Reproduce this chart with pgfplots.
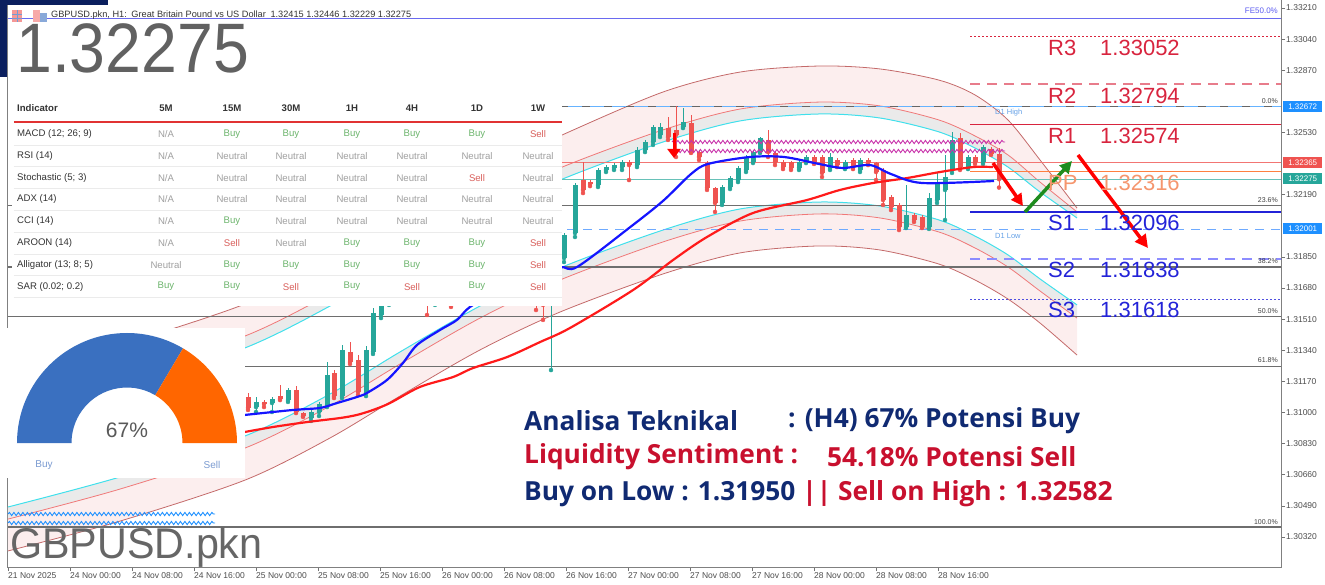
\documentclass[border=0pt]{standalone}
\usepackage{fontspec}
\usepackage{graphicx}
\usepackage{pgfplots}
\usepackage{pgfplotstable}
\pgfplotsset{compat=1.18}
\usepgfplotslibrary{fillbetween}
\usetikzlibrary{decorations.pathmorphing,arrows.meta}
\setmainfont{Liberation Sans}
\newfontfamily\osans{Open Sans}

\definecolor{upc}{HTML}{26A69A}
\definecolor{dnc}{HTML}{EF5350}
\definecolor{navyt}{HTML}{102A72}
\definecolor{redt}{HTML}{C8102E}
\definecolor{rlev}{HTML}{D8243E}
\definecolor{slev}{HTML}{2323D8}
\definecolor{chbrown}{HTML}{C46A6A}
\definecolor{chred}{HTML}{F07878}
\definecolor{chcyan}{HTML}{40E0EC}
\definecolor{pinkfill}{HTML}{FCEEEE}
\definecolor{greyfill}{HTML}{EAEAEA}
\definecolor{fibg}{HTML}{6E6E6E}
\definecolor{gblue}{HTML}{3A70C0}
\definecolor{gorange}{HTML}{FF6600}
\definecolor{buyc}{HTML}{6DB56D}
\definecolor{sellc}{HTML}{D9605C}
\definecolor{neuc}{HTML}{A0A0A0}
\definecolor{navyband}{HTML}{0B1F5E}

\newcommand\cellB{\textcolor{buyc}{Buy}}
\newcommand\cellS{\textcolor{sellc}{Sell}}
\newcommand\cellN{\textcolor{neuc}{Neutral}}
\newcommand\cellA{\textcolor{neuc}{N/A}}

\pgfplotstableread{
x o h l c
256 1.31030 1.31085 1.31003 1.31058
272 1.31052 1.31085 1.31003 1.31074
288 1.31068 1.31134 1.31058 1.31123
311 1.30970 1.31014 1.30954 1.31003
319 1.31003 1.31058 1.30981 1.31047
327 1.31041 1.31276 1.31030 1.31205
342 1.31090 1.31369 1.31079 1.31342
366 1.31107 1.31363 1.31090 1.31342
373 1.31331 1.31571 1.31320 1.31544
381 1.31533 1.31669 1.31516 1.31642
389 1.31615 1.31806 1.31588 1.31779
404 1.31697 1.31888 1.31669 1.31861
412 1.31844 1.31970 1.31833 1.31943
435 1.31615 1.31806 1.31588 1.31779
443 1.31768 1.31888 1.31751 1.31861
458 1.31642 1.31779 1.31615 1.31751
466 1.31751 1.31915 1.31724 1.31888
474 1.31888 1.31997 1.31861 1.31970
489 1.31861 1.32024 1.31844 1.31997
497 1.31986 1.32079 1.31970 1.32052
520 1.31768 1.31888 1.31751 1.31861
528 1.31844 1.31943 1.31833 1.31915
551 1.31669 1.31861 1.31232 1.31822
564 1.31844 1.31981 1.31822 1.31970
575 1.31981 1.32254 1.31959 1.32243
598 1.32243 1.32336 1.32232 1.32325
606 1.32325 1.32352 1.32314 1.32341
614 1.32336 1.32363 1.32325 1.32352
622 1.32341 1.32380 1.32325 1.32369
637 1.32352 1.32451 1.32341 1.32434
645 1.32434 1.32489 1.32423 1.32478
653 1.32478 1.32571 1.32462 1.32560
660 1.32516 1.32582 1.32505 1.32560
683 1.32560 1.32665 1.32554 1.32587
722 1.32145 1.32243 1.32134 1.32232
730 1.32232 1.32292 1.32221 1.32281
738 1.32270 1.32347 1.32259 1.32336
746 1.32325 1.32407 1.32314 1.32396
753 1.32369 1.32434 1.32363 1.32423
760 1.32423 1.32505 1.32418 1.32500
799 1.32336 1.32380 1.32325 1.32369
806 1.32369 1.32407 1.32363 1.32396
830 1.32336 1.32418 1.32325 1.32396
845 1.32341 1.32380 1.32330 1.32369
860 1.32325 1.32391 1.32314 1.32380
906 1.32013 1.32243 1.32008 1.32079
929 1.32013 1.32199 1.32003 1.32172
937 1.32161 1.32309 1.32145 1.32254
945 1.32216 1.32407 1.32052 1.32287
952 1.32325 1.32533 1.32309 1.32489
968 1.32341 1.32407 1.32330 1.32396
983 1.32369 1.32462 1.32358 1.32451
}\upcandles

\pgfplotstableread{
x o h l c
248 1.31085 1.31107 1.31014 1.31025
264 1.31058 1.31068 1.31030 1.31047
280 1.31090 1.31151 1.31068 1.31074
296 1.31123 1.31145 1.30997 1.31003
303 1.30997 1.31003 1.30976 1.30981
334 1.31216 1.31232 1.31079 1.31090
350 1.31331 1.31385 1.31265 1.31276
358 1.31287 1.31314 1.31096 1.31112
397 1.31806 1.31833 1.31669 1.31697
420 1.31915 1.31943 1.31697 1.31724
427 1.31724 1.31779 1.31533 1.31615
451 1.31844 1.31861 1.31577 1.31642
482 1.31970 1.31997 1.31833 1.31861
505 1.32041 1.32063 1.31861 1.31888
512 1.31888 1.31915 1.31751 1.31779
536 1.31888 1.31915 1.31560 1.31615
543 1.31669 1.31697 1.31506 1.31588
583 1.32270 1.32369 1.32199 1.32216
590 1.32259 1.32270 1.32237 1.32248
629 1.32369 1.32380 1.32270 1.32352
668 1.32554 1.32614 1.32489 1.32505
676 1.32544 1.32672 1.32396 1.32516
691 1.32582 1.32625 1.32418 1.32423
699 1.32423 1.32434 1.32380 1.32396
707 1.32363 1.32374 1.32216 1.32227
715 1.32227 1.32232 1.32096 1.32145
768 1.32489 1.32544 1.32396 1.32423
775 1.32418 1.32423 1.32352 1.32369
783 1.32369 1.32380 1.32330 1.32341
791 1.32369 1.32374 1.32325 1.32336
814 1.32396 1.32407 1.32358 1.32369
822 1.32396 1.32407 1.32287 1.32309
837 1.32380 1.32391 1.32341 1.32352
853 1.32380 1.32391 1.32330 1.32341
868 1.32380 1.32391 1.32352 1.32363
876 1.32363 1.32369 1.32270 1.32314
883 1.32325 1.32336 1.32134 1.32161
891 1.32177 1.32188 1.32106 1.32123
899 1.32134 1.32145 1.31997 1.32013
914 1.32079 1.32090 1.32041 1.32052
922 1.32068 1.32079 1.32008 1.32013
960 1.32500 1.32527 1.32325 1.32341
975 1.32396 1.32407 1.32358 1.32369
991 1.32440 1.32451 1.32407 1.32415
999 1.32415 1.32446 1.32229 1.32275
}\dncandles

\begin{document}
\begin{tikzpicture}
\begin{axis}[
  name=main, scale only axis, width=1273pt, height=567pt,
  xmin=8, xmax=1281, ymin=1.301562, ymax=1.332537,
  clip mode=individual,
  axis line style={draw=black!50, line width=1pt},
  xtick={8,70,132,194,256,318,380,442,504,566,628,690,752,814,876,938},
  xticklabels={21 Nov 2025, 24 Nov 00:00, 24 Nov 08:00, 24 Nov 16:00, 25 Nov 00:00, 25 Nov 08:00, 25 Nov 16:00, 26 Nov 00:00, 26 Nov 08:00, 26 Nov 16:00, 27 Nov 00:00, 27 Nov 08:00, 27 Nov 16:00, 28 Nov 00:00, 28 Nov 08:00, 28 Nov 16:00},
  xtick pos=left, ytick pos=right, yticklabel pos=right,
  tick align=outside, major tick length=4pt,
  tick style={black!55, line width=0.6pt},
  ytick={1.30320,1.30490,1.30660,1.30830,1.31000,1.31170,1.31340,1.31510,1.31680,1.31850,1.32190,1.32530,1.32870,1.33040,1.33210},
  scaled y ticks=false,
  ticklabel style={font=\fontsize{8.5}{9}\selectfont, text=black!70},
  xticklabel style={anchor=north west, xshift=-1pt, inner sep=1pt},
  yticklabel style={anchor=west, inner sep=1pt, /pgf/number format/fixed, /pgf/number format/fixed zerofill, /pgf/number format/precision=5, /pgf/number format/assume math mode=true},
]
% regression channel (outer brown, red, cyan; upper and lower)
\addplot[name path=ub, chbrown, line width=0.8pt, smooth] coordinates {(8,1.31205) (120,1.31369) (245,1.31593) (330,1.31822) (400,1.32052) (480,1.32303) (560,1.32511) (663,1.32751) (740,1.32860) (819,1.32893) (880,1.32877) (939,1.32816) (975,1.32735) (1008,1.32598) (1040,1.32380) (1077,1.32117)};
\addplot[name path=ur, chred, line width=0.8pt, smooth] coordinates {(8,1.31030) (120,1.31194) (245,1.31418) (330,1.31648) (400,1.31877) (480,1.32128) (560,1.32336) (663,1.32544) (740,1.32658) (819,1.32696) (880,1.32675) (939,1.32598) (975,1.32511) (1008,1.32407) (1040,1.32259) (1077,1.32096)};
\addplot[name path=uc, chcyan, line width=1pt, smooth] coordinates {(8,1.30965) (120,1.31129) (245,1.31353) (330,1.31582) (400,1.31811) (480,1.32063) (560,1.32270) (663,1.32478) (740,1.32593) (819,1.32631) (880,1.32609) (939,1.32533) (975,1.32445) (1008,1.32341) (1040,1.32205) (1077,1.32063)};
\addplot[name path=lc, chcyan, line width=1pt, smooth] coordinates {(8,1.30484) (120,1.30648) (245,1.30872) (330,1.31101) (400,1.31331) (480,1.31582) (560,1.31790) (663,1.31997) (740,1.32112) (819,1.32150) (880,1.32128) (939,1.32052) (975,1.31964) (1008,1.31861) (1040,1.31730) (1077,1.31588)};
\addplot[name path=lr, chred, line width=0.8pt, smooth] coordinates {(8,1.30418) (120,1.30582) (245,1.30806) (330,1.31036) (400,1.31265) (480,1.31516) (560,1.31724) (663,1.31932) (740,1.32046) (819,1.32085) (880,1.32063) (939,1.31986) (975,1.31899) (1008,1.31795) (1040,1.31664) (1077,1.31516)};
\addplot[name path=lb, chbrown, line width=0.8pt, smooth] coordinates {(8,1.30244) (120,1.30407) (245,1.30631) (330,1.30861) (400,1.31090) (480,1.31342) (560,1.31549) (663,1.31757) (740,1.31872) (819,1.31910) (880,1.31888) (939,1.31811) (975,1.31724) (1008,1.31620) (1040,1.31489) (1077,1.31314)};
\addplot[pinkfill] fill between[of=ub and ur];
\addplot[greyfill] fill between[of=ur and uc];
\addplot[greyfill] fill between[of=lc and lr];
\addplot[pinkfill] fill between[of=lr and lb];

% fibonacci levels
\addplot[fibg, line width=1.4pt] coordinates {(8,1.32130) (1281,1.32130)};
\addplot[fibg, line width=1.4pt] coordinates {(8,1.31795) (1281,1.31795)};
\addplot[fibg, line width=1.4pt] coordinates {(8,1.31524) (1281,1.31524)};
\addplot[fibg, line width=1.4pt] coordinates {(8,1.31252) (1281,1.31252)};
\addplot[fibg, line width=1.4pt] coordinates {(8,1.30375) (1281,1.30375)};
% other horizontal levels
\addplot[color={rgb,255:red,106;green,106;blue,240}, line width=1pt] coordinates {(8,1.33155) (1281,1.33155)};
\addplot[color={rgb,255:red,102;green,179;blue,255}, line width=1pt] coordinates {(560,1.32672) (1281,1.32672)};
\addplot[black!60, line width=1pt, dash pattern=on 8pt off 14pt] coordinates {(560,1.32672) (1281,1.32672)};
\addplot[dnc!80, line width=0.8pt] coordinates {(560,1.32365) (1281,1.32365)};
\addplot[upc!70, line width=0.8pt] coordinates {(560,1.32275) (1281,1.32275)};
\addplot[color={rgb,255:red,110;green,170;blue,255}, line width=1pt, dash pattern=on 9pt off 7pt] coordinates {(567,1.32001) (1281,1.32001)};
% pivots
\addplot[rlev, line width=1pt, dash pattern=on 1.5pt off 2.5pt] coordinates {(970,1.33052) (1281,1.33052)};
\addplot[rlev!60, line width=1.4pt, dash pattern=on 10pt off 7pt] coordinates {(970,1.32794) (1281,1.32794)};
\addplot[rlev, line width=1.6pt] coordinates {(970,1.32574) (1281,1.32574)};
\addplot[color={rgb,255:red,255;green,128;blue,64}, line width=1.6pt] coordinates {(970,1.32316) (1281,1.32316)};
\addplot[slev, line width=2pt] coordinates {(970,1.32096) (1281,1.32096)};
\addplot[color={rgb,255:red,140;green,140;blue,255}, line width=2pt, dash pattern=on 10pt off 7pt] coordinates {(970,1.31838) (1281,1.31838)};
\addplot[slev!80, line width=1pt, dash pattern=on 1.5pt off 2.5pt] coordinates {(970,1.31618) (1281,1.31618)};

% candles
\addplot[only marks, mark=none, upc, forget plot, error bars/.cd, y dir=plus, y explicit, error mark=none, error bar style={line width=1pt, upc}] table[x=x, y=l, y error expr=\thisrow{h}-\thisrow{l}] {\upcandles};
\addplot[only marks, mark=none, upc, forget plot, error bars/.cd, y dir=plus, y explicit, error mark=none, error bar style={line width=5pt, upc}] table[x=x, y=o, y error expr=\thisrow{c}-\thisrow{o}] {\upcandles};
\addplot[only marks, mark=none, dnc, forget plot, error bars/.cd, y dir=plus, y explicit, error mark=none, error bar style={line width=1pt, dnc}] table[x=x, y=l, y error expr=\thisrow{h}-\thisrow{l}] {\dncandles};
\addplot[only marks, mark=none, dnc, forget plot, error bars/.cd, y dir=plus, y explicit, error mark=none, error bar style={line width=5pt, dnc}] table[x=x, y=c, y error expr=\thisrow{o}-\thisrow{c}] {\dncandles};

% moving averages
\addplot[color={rgb,255:red,255;green,26;blue,26}, line width=2.2pt, smooth] coordinates {(245,1.30894) (273,1.30921) (307,1.30948) (340,1.30970) (357,1.30987) (373,1.31014) (390,1.31052) (420,1.31140) (453,1.31194) (473,1.31243) (507,1.31303) (540,1.31385) (570,1.31462) (633,1.31669) (673,1.31833) (707,1.31959) (753,1.32090) (807,1.32161) (840,1.32216) (873,1.32254) (907,1.32281) (940,1.32314) (973,1.32341) (993,1.32341)};
\addplot[color={rgb,255:red,21;green,21;blue,255}, line width=2.2pt, smooth] coordinates {(245,1.30987) (293,1.31014) (320,1.31025) (337,1.31052) (357,1.31085) (367,1.31107) (387,1.31178) (403,1.31271) (417,1.31369) (440,1.31451) (457,1.31506) (470,1.31577) (500,1.31669) (530,1.31751) (560,1.31795) (577,1.31795) (629,1.32008) (663,1.32156) (691,1.32303) (708,1.32358) (750,1.32396) (784,1.32396) (819,1.32358) (843,1.32336) (870,1.32352) (891,1.32303) (922,1.32254) (994,1.32265)};
\end{axis}

% ---------- overlays in pixel coordinates ----------
\begin{scope}[shift={(-8pt,567pt)}, x=1pt, y=-1pt]
  % navy corner
  \fill[navyband] (0,0) rectangle (108,5);
  \fill[navyband] (0,0) rectangle (7,77);
  % header icons and text
  \fill[dnc!60] (12,10) rectangle (22,22);
  \draw[gblue!70, line width=0.6pt] (12,14) -- (22,14) (12,18) -- (22,18) (17,10) -- (17,22);
  \fill[dnc!50] (33,10) rectangle (40,22);
  \fill[gblue!60] (40,13) rectangle (47,22);
  \node[anchor=west, font=\fontsize{9.2}{10}\selectfont, text=black!80, inner sep=0pt] at (51,15) {GBPUSD.pkn, H1:\enspace Great Britain Pound vs US Dollar\enspace 1.32415 1.32446 1.32229 1.32275};
  % big price
  \node[anchor=base west, inner sep=0pt, text=black!62, font=\fontsize{70}{70}\selectfont] at (16,73) {\scalebox{0.92}[1]{1.32275}};
  \node[anchor=base west, inner sep=0pt, text=black!60, font=\fontsize{43}{43}\selectfont] at (10,558) {\scalebox{0.96}[1]{GBPUSD.pkn}};

  % wavy lines
  \draw[color={rgb,255:red,200;green,50;blue,170}, line width=0.9pt, decorate, decoration={snake, amplitude=1.6pt, segment length=4.5pt}] (672,142) -- (1005,142);
  \draw[color={rgb,255:red,200;green,50;blue,170}, line width=0.9pt, decorate, decoration={snake, amplitude=1.6pt, segment length=4.5pt}] (672,151) -- (1005,151);
  \draw[color={rgb,255:red,30;green,144;blue,255}, line width=0.9pt, decorate, decoration={snake, amplitude=1.6pt, segment length=4.5pt}] (8,514) -- (215,514);
  \draw[color={rgb,255:red,30;green,144;blue,255}, line width=0.9pt, decorate, decoration={snake, amplitude=1.6pt, segment length=4.5pt}] (8,523) -- (215,523);

  % arrows
  \draw[red, line width=3pt, -{Triangle[length=9pt,width=13pt]}] (674,133) -- (674,158);
  \draw[red, line width=3.5pt, -{Triangle[length=12pt,width=12pt]}] (993,163) -- (1023,206);
  \draw[color={rgb,255:red,30;green,140;blue,30}, line width=3.5pt, -{Triangle[length=12pt,width=12pt]}] (1025,212) -- (1072,161);
  \draw[red, line width=3.5pt, -{Triangle[length=13pt,width=13pt]}] (1078,155) -- (1148,248);

  % level labels
  \begin{scope}[every node/.style={anchor=west, inner sep=0pt, font=\fontsize{22}{22}\selectfont}]
    \node[text=rlev] at (1048,48) {R3}; \node[text=rlev] at (1100,48) {1.33052};
    \node[text=rlev] at (1048,96) {R2}; \node[text=rlev] at (1100,96) {1.32794};
    \node[text=rlev] at (1048,136) {R1}; \node[text=rlev] at (1100,136) {1.32574};
    \node[text={rgb,255:red,245;green,150;blue,110}] at (1048,183) {PP}; \node[text={rgb,255:red,245;green,150;blue,110}] at (1100,183) {1.32316};
    \node[text=slev] at (1048,223) {S1}; \node[text=slev] at (1100,223) {1.32096};
    \node[text=slev] at (1048,270) {S2}; \node[text=slev] at (1100,270) {1.31838};
    \node[text=slev] at (1048,310) {S3}; \node[text=slev] at (1100,310) {1.31618};
  \end{scope}
  % fibo labels
  \begin{scope}[every node/.style={anchor=south east, inner sep=1pt, font=\fontsize{7}{7}\selectfont, text=black!75}]
    \node at (1279,105) {0.0\%};
    \node at (1279,204) {23.6\%};
    \node at (1279,265) {38.2\%};
    \node at (1279,315) {50.0\%};
    \node at (1279,364) {61.8\%};
    \node at (1279,526) {100.0\%};
  \end{scope}
  \node[anchor=east, inner sep=0pt, font=\fontsize{8}{8}\selectfont, text={rgb,255:red,90;green,90;blue,240}] at (1278,11) {FE50.0\%};
  \node[anchor=west, inner sep=0pt, font=\fontsize{7.5}{7.5}\selectfont, text={rgb,255:red,100;green,160;blue,230}] at (995,113) {D1 High};
  \node[anchor=west, inner sep=0pt, font=\fontsize{7.5}{7.5}\selectfont, text={rgb,255:red,100;green,160;blue,230}] at (995,236) {D1 Low};
  % price boxes
  \begin{scope}[every node/.style={anchor=west, inner sep=0pt, minimum width=39pt, minimum height=11pt, font=\fontsize{8}{8}\selectfont, text=white}]
    \node[fill={rgb,255:red,30;green,144;blue,255}] at (1283,106.5) {1.32672};
    \node[fill=dnc] at (1283,162.7) {1.32365};
    \node[fill=upc] at (1283,179) {1.32275};
    \node[fill={rgb,255:red,30;green,144;blue,255}] at (1283,229) {1.32001};
  \end{scope}

  % indicator table
  \fill[white] (12,96) rectangle (562,306);
  \begin{scope}[every node/.style={inner sep=0pt, font=\fontsize{9.6}{10}\selectfont}]
    \node[anchor=west, font=\fontsize{9.6}{10}\selectfont\bfseries, text=black!80] at (17,108) {Indicator};
    \foreach \h/\xx in {5M/166,15M/232,30M/291,1H/352,4H/412,1D/477,1W/538}
      \node[font=\fontsize{9.6}{10}\selectfont\bfseries, text=black!80] at (\xx,108) {\h};
    \draw[color={rgb,255:red,225;green,50;blue,50}, line width=1.6pt] (14,122) -- (562,122);
    \foreach \nm/\a/\b/\c/\d/\e/\f/\g [count=\i] in {
      MACD (12; 26; 9)/A/B/B/B/B/B/S,
      RSI (14)/A/N/N/N/N/N/N,
      Stochastic (5; 3)/A/N/N/N/N/S/N,
      ADX (14)/A/N/N/N/N/N/N,
      CCI (14)/A/B/N/N/N/N/N,
      AROON (14)/A/S/N/B/B/B/S,
      Alligator (13; 8; 5)/N/B/B/B/B/B/S,
      SAR (0.02; 0.2)/B/B/S/B/S/B/S}
    {
      \pgfmathsetmacro\yy{134+(\i-1)*21.8}
      \node[anchor=west, text=black!80] at (17,\yy) {\nm};
      \node at (166,\yy) {\csname cell\a\endcsname};
      \node at (232,\yy) {\csname cell\b\endcsname};
      \node at (291,\yy) {\csname cell\c\endcsname};
      \node at (352,\yy) {\csname cell\d\endcsname};
      \node at (412,\yy) {\csname cell\e\endcsname};
      \node at (477,\yy) {\csname cell\f\endcsname};
      \node at (538,\yy) {\csname cell\g\endcsname};
      \draw[black!8, line width=0.8pt] (14,\yy+11) -- (562,\yy+11);
    }
  \end{scope}

  % gauge box
  \fill[white] (7,328) rectangle (245,478);
  \node[inner sep=0pt, font=\fontsize{21}{21}\selectfont, text=black!65] at (127,430) {67\%};
  \node[inner sep=0pt, font=\fontsize{10}{10}\selectfont, text={rgb,255:red,123;green,155;blue,209}] at (44,465) {Buy};
  \node[inner sep=0pt, font=\fontsize{10}{10}\selectfont, text={rgb,255:red,123;green,155;blue,209}] at (212,465) {Sell};

  % text block
  \begin{scope}[every node/.style={anchor=west, inner sep=0pt, font=\osans\bfseries\fontsize{26.3}{27}\selectfont}]
    \node[text=navyt] at (524,421) {Analisa Teknikal};
    \node[text=navyt] at (788,421) {: (H4) 67\% Potensi Buy};
    \node[text=redt] at (524,457) {Liquidity Sentiment :};
    \node[text=redt] at (827,457) {54.18\% Potensi Sell};
    \node[text=navyt] at (524,494) {Buy on Low : 1.31950 \textcolor{redt}{|| Sell on High : 1.32582}};
  \end{scope}
\end{scope}

% gauge donut (67% buy)
\begin{scope}[shift={(119pt,124pt)}]
  \fill[gblue] (180:110pt) arc[start angle=180, end angle=59.4, radius=110pt] -- (59.4:55.5pt) arc[start angle=59.4, end angle=180, radius=55.5pt] -- cycle;
  \fill[gorange] (59.4:110pt) arc[start angle=59.4, end angle=0, radius=110pt] -- (0:55.5pt) arc[start angle=0, end angle=59.4, radius=55.5pt] -- cycle;
\end{scope}

\pgfresetboundingbox
\path[use as bounding box] (-8pt,-17pt) rectangle (1317pt,567pt);
\end{tikzpicture}
\end{document}
